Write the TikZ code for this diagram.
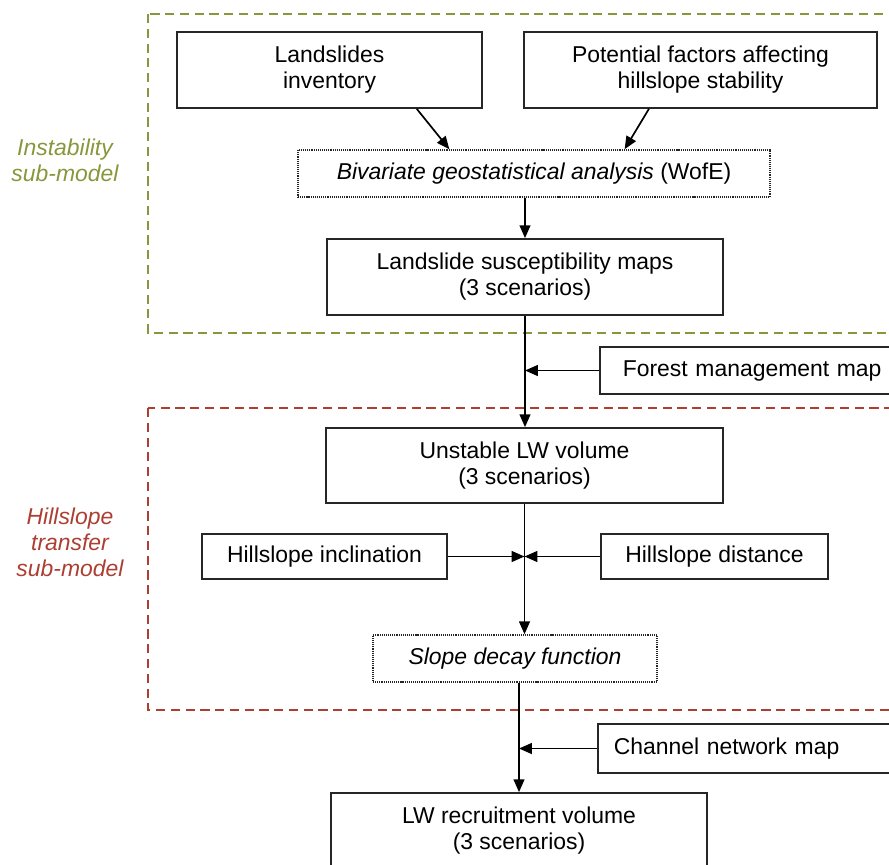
\documentclass[tikz,border=0pt]{standalone}
\usepackage{fontspec}
\setmainfont{Liberation Sans}
\usetikzlibrary{arrows.meta}
\definecolor{instgreen}{RGB}{137,150,60}
\definecolor{transred}{RGB}{172,62,50}

\begin{document}
\begin{tikzpicture}[x=0.025cm,y=-0.025cm,
  font=\fontsize{16.3}{18.5}\selectfont,>={Triangle[length=3.2mm,width=2.7mm]},
  bx/.style={draw=black!85,line width=1.2pt,align=center,inner sep=2pt,fill=white},
  dbx/.style={bx,line width=1.1pt,dash pattern=on 0.8pt off 0.7pt},
  fl/.style={->,line width=1.2pt,black},
  zone/.style={line width=1.4pt,dash pattern=on 6.5pt off 4pt},
  lbl/.style={align=center,font=\fontsize{16.3}{18.5}\selectfont\itshape}]
\useasboundingbox (0,0) rectangle (889,864);
\clip (0,0) rectangle (889,864);
% ---------------- sub-model zones
\draw[zone,instgreen] (148,14) rectangle (920,333);
\draw[zone,transred] (148,408) rectangle (920,710);
\node[lbl,text=instgreen] (instlbl) at (65,160) {Instability\\sub-model};
\node[lbl,text=transred] (translbl) at (70,542) {Hillslope\\transfer\\sub-model};
% ---------------- instability sub-model
\node[bx,minimum width=7.625cm,minimum height=1.9cm] (inv) at (329.5,70) {Landslides\\inventory};
\node[bx,minimum width=8.825cm,minimum height=1.9cm] (fac) at (700.5,70) {Potential factors affecting\\hillslope stability};
\node[dbx,minimum width=11.8cm,minimum height=1.175cm] (biv) at (534,173.5)
  {\textit{Bivariate geostatistical analysis} (WofE)};
\node[bx,minimum width=9.9cm,minimum height=1.9cm] (sus) at (525,277) {Landslide susceptibility maps\\(3 scenarios)};
\draw[fl] (inv.-24.5) -- (biv.164.4);
\draw[fl] (fac.217) -- (biv.15.3);
\draw[fl] (biv.south -| sus.north) -- (sus.north);
% ---------------- forest management
\node[bx,anchor=west,align=left,text width=8cm,inner xsep=0.575cm,minimum height=1.175cm] (forest) at (599,370.5)
  {Forest management map};
\coordinate (fmjoin) at (sus.south |- forest.west);
\draw[fl] (forest.west) -- (fmjoin);
% ---------------- hillslope transfer sub-model
\node[bx,minimum width=9.925cm,minimum height=1.875cm] (lwu) at (524.5,465.5) {Unstable LW volume\\(3 scenarios)};
\draw[fl] (sus.south) -- (sus.south |- lwu.north);
\node[bx,minimum width=6.125cm,minimum height=1.125cm] (incl) at (324.5,556.5) {Hillslope inclination};
\node[bx,minimum width=5.675cm,minimum height=1.125cm] (dist) at (714.5,556.5) {Hillslope distance};
\node[dbx,minimum width=7.1cm,minimum height=1.175cm] (decay) at (515,658.5) {\textit{Slope decay function}};
\coordinate (hsjoin) at (lwu.south |- incl.east);
\foreach \x in {incl.east,dist.west} \draw[fl] (\x) -- (hsjoin);
\draw[fl] (lwu.south) -- (lwu.south |- decay.north);
% ---------------- recruitment
\node[bx,anchor=west,align=left,text width=8cm,inner xsep=0.4cm,minimum height=1.225cm] (chan) at (597,748.5)
  {Channel network map};
\node[bx,minimum width=9.4cm,minimum height=1.9cm] (lwr) at (519,831) {LW recruitment volume\\(3 scenarios)};
\draw[fl] (chan.west) -- (chan.west -| lwr.north);
\draw[fl] (decay.south -| lwr.north) -- (lwr.north);
\end{tikzpicture}
\end{document}
